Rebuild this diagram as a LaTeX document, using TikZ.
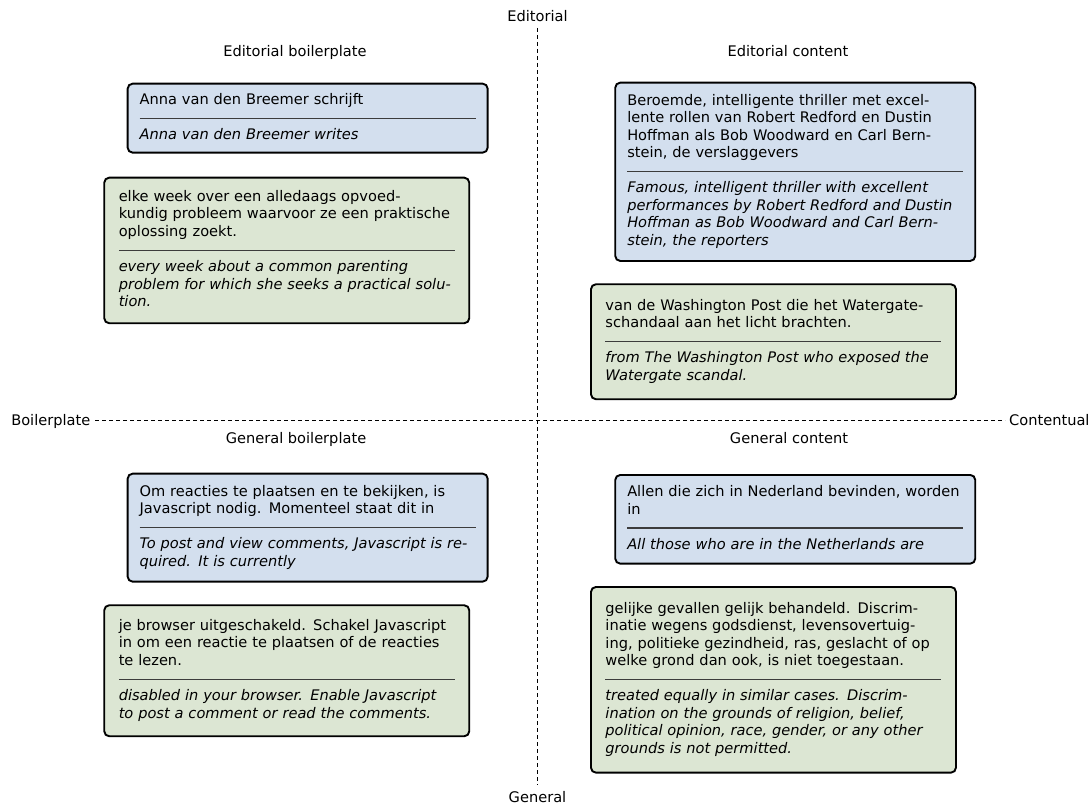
\documentclass[tikz,border=0pt]{standalone}
\usepackage{fontspec}
\setmainfont{DejaVu Sans}
\definecolor{bluefill}{RGB}{211,223,238}
\definecolor{greenfill}{RGB}{220,230,211}
\definecolor{sepcol}{RGB}{60,60,60}
\newcommand\tln[1]{\hbox{\strut#1}}
\newcommand\tli[1]{\hbox{\strut\itshape#1}}
\newcommand\sepline{\vskip8.2pt{\color{sepcol}\hrule height 1.2pt}\vskip8.2pt}
\tikzset{
  txt/.style={font=\fontsize{14.6}{17.5}\selectfont},
  card/.style={txt, draw=black, line width=1.9pt, rounded corners=5pt,
    text width=336pt, inner xsep=0pt, inner ysep=0pt, anchor=north west},
  bluecard/.style={card, fill=bluefill, minimum width=360pt},
  greencard/.style={card, fill=greenfill, minimum width=365pt},
  axis/.style={draw=black, line width=0.8pt, dash pattern=on 4pt off 3pt},
  lbl/.style={txt, inner sep=0pt}
}
\begin{document}
\begin{tikzpicture}[x=1pt, y=-1pt]
\useasboundingbox (0,0) rectangle (1091,805);

% axes
\coordinate (vt) at (537.5,28);
\coordinate (vb) at (537.5,785);
\coordinate (hl) at (95,420);
\coordinate (hr) at (1005,420);
\draw[axis] (vt) -- (vb);
\draw[axis] (hl) -- (hr);
\node[lbl, anchor=base] (edit) at (537.5,22) {Editorial};
\node[lbl, anchor=base] (gen) at (537.5,802) {General};
\node[lbl, anchor=base east] (boil) at (90.5,425) {Boilerplate};
\node[lbl, anchor=base west] (cont) at (1009,425) {Contentual};

% quadrant titles
\node[lbl, anchor=base] (t1) at (295,57) {Editorial boilerplate};
\node[lbl, anchor=base] (t2) at (788,57) {Editorial content};
\node[lbl, anchor=base] (t3) at (296,443) {General boilerplate};
\node[lbl, anchor=base] (t4) at (789,443) {General content};

% cards
\node[bluecard, minimum height=69pt] (b1) at (126.7,82.7) {%
\tln{Anna van den Breemer schrijft}\sepline
\tli{Anna van den Breemer writes}};

\node[greencard, minimum height=145.6pt] (b2) at (103.3,176.7) {%
\tln{elke week over een alledaags opvoed-}
\tln{kundig probleem waarvoor ze een praktische}
\tln{oplossing zoekt.}\sepline
\tli{every week about a common parenting}
\tli{problem for which she seeks a practical solu-}
\tli{tion.}};

\node[bluecard, minimum height=178.3pt] (b3) at (614.3,81.7) {%
\tln{Beroemde, intelligente thriller met excel-}
\tln{lente rollen van Robert Redford en Dustin}
\tln{Hoffman als Bob Woodward en Carl Bern-}
\tln{stein, de verslaggevers}\sepline
\tli{Famous, intelligent thriller with excellent}
\tli{performances by Robert Redford and Dustin}
\tli{Hoffman as Bob Woodward and Carl Bern-}
\tli{stein, the reporters}};

\node[greencard, minimum height=115pt] (b4) at (590,283.3) {%
\tln{van de Washington Post die het Watergate-}
\tln{schandaal aan het licht brachten.}\sepline
\tli{from The Washington Post who exposed the}
\tli{Watergate scandal.}};

\node[bluecard, minimum height=108pt] (b5) at (126.7,472.7) {%
\tln{Om reacties te plaatsen en te bekijken, is}
\tln{Javascript nodig. Momenteel staat dit in}\sepline
\tli{To post and view comments, Javascript is re-}
\tli{quired. It is currently}};

\node[greencard, minimum height=131pt] (b6) at (103.3,604.3) {%
\tln{je browser uitgeschakeld. Schakel Javascript}
\tln{in om een reactie te plaatsen of de reacties}
\tln{te lezen.}\sepline
\tli{disabled in your browser. Enable Javascript}
\tli{to post a comment or read the comments.}};

\node[bluecard, minimum height=88.7pt] (b7) at (614.3,474) {%
\tln{Allen die zich in Nederland bevinden, worden}
\tln{in}\sepline
\tli{All those who are in the Netherlands are}};

\node[greencard, minimum height=185.7pt] (b8) at (590,586) {%
\tln{gelijke gevallen gelijk behandeld. Discrim-}
\tln{inatie wegens godsdienst, levensovertuig-}
\tln{ing, politieke gezindheid, ras, geslacht of op}
\tln{welke grond dan ook, is niet toegestaan.}\sepline
\tli{treated equally in similar cases. Discrim-}
\tli{ination on the grounds of religion, belief,}
\tli{political opinion, race, gender, or any other}
\tli{grounds is not permitted.}};
\end{tikzpicture}
\end{document}
